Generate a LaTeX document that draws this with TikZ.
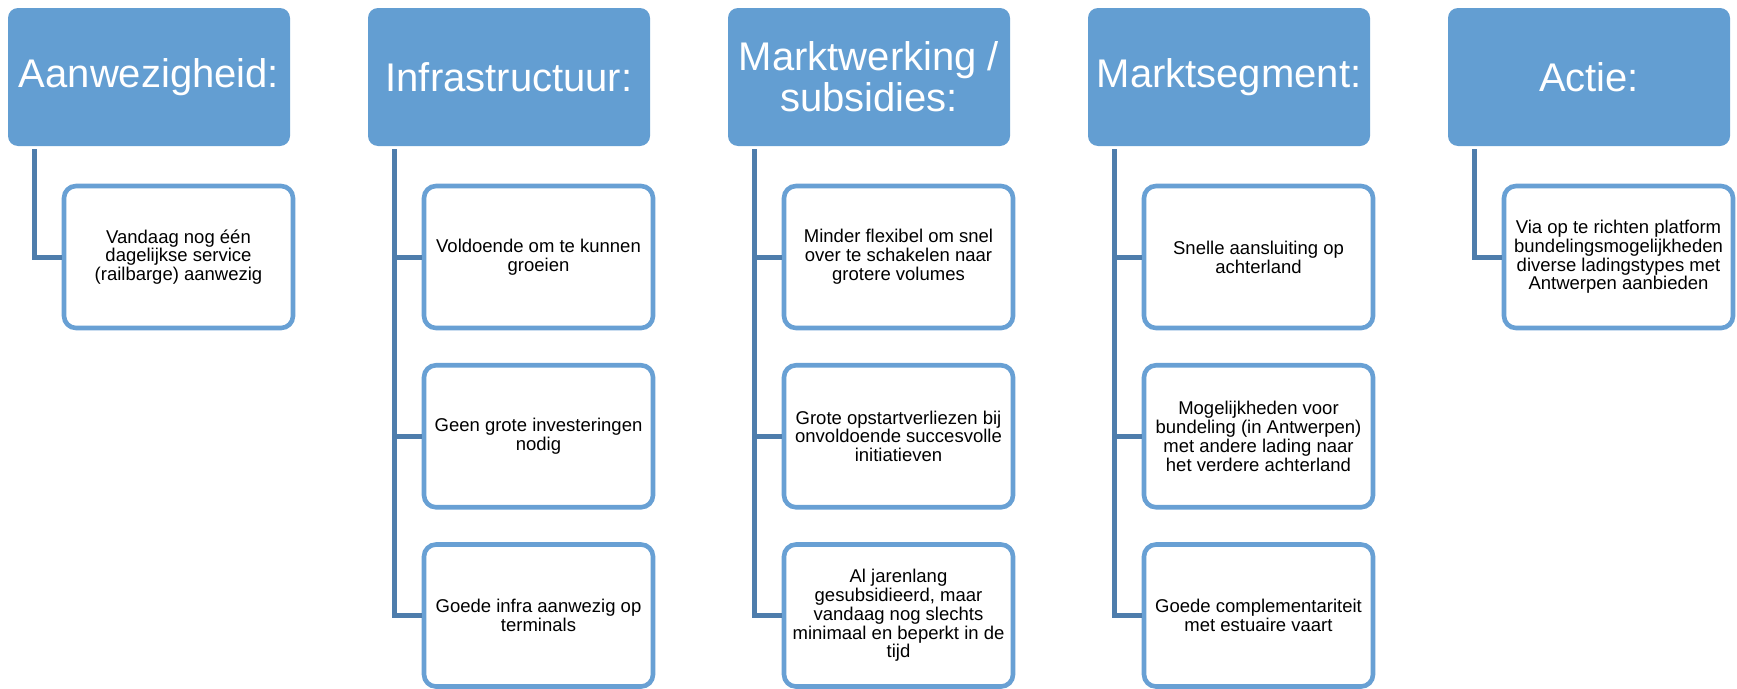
\documentclass[tikz,border=0pt]{standalone}
\usepackage{fontspec}
\setmainfont{Liberation Sans}
\definecolor{hdrfill}{RGB}{99,158,210}
\definecolor{boxline}{RGB}{104,160,212}
\definecolor{connline}{RGB}{78,125,172}
\tikzset{
  hdr/.style={fill=hdrfill, draw=none, rounded corners=10pt, minimum width=282pt, minimum height=138pt,
    inner sep=2pt, align=center, text=white, font=\fontsize{40}{41}\selectfont},
  itembox/.style={draw=boxline, line width=4.6pt, fill=white, rounded corners=12pt, minimum width=229pt,
    minimum height=142pt, inner sep=2pt, align=center, text=black, font=\fontsize{18.5}{18.8}\selectfont},
  conn/.style={draw=connline, line width=5pt}
}
\begin{document}
\begin{tikzpicture}[x=1pt,y=-1pt]
\useasboundingbox (0,0) rectangle (1737,688);
% headers
\node[hdr] (h1) at (149,77) {Aanwezigheid:};
\node[hdr] (h2) at (509,77) {Infrastructuur:};
\node[hdr] (h3) at (869,77) {Marktwerking /\\subsidies:};
\node[hdr] (h4) at (1229,77) {Marktsegment:};
\node[hdr] (h5) at (1589,77) {Actie:};
% children
\node[itembox] (c1a) at (178.5,257) {Vandaag nog één\\dagelijkse service\\(railbarge) aanwezig};
\node[itembox] (c2a) at (538.5,257) {Voldoende om te kunnen\\groeien};
\node[itembox] (c2b) at (538.5,436.25) {Geen grote investeringen\\nodig};
\node[itembox] (c2c) at (538.5,615.5) {Goede infra aanwezig op\\terminals};
\node[itembox] (c3a) at (898.5,257) {Minder flexibel om snel\\over te schakelen naar\\grotere volumes};
\node[itembox] (c3b) at (898.5,436.25) {Grote opstartverliezen bij\\onvoldoende succesvolle\\initiatieven};
\node[itembox] (c3c) at (898.5,615.5) {Al jarenlang\\gesubsidieerd, maar\\vandaag nog slechts\\minimaal en beperkt in de\\tijd};
\node[itembox] (c4a) at (1258.5,257) {Snelle aansluiting op\\achterland};
\node[itembox] (c4b) at (1258.5,436.25) {Mogelijkheden voor\\bundeling (in Antwerpen)\\met andere lading naar\\het verdere achterland};
\node[itembox] (c4c) at (1258.5,615.5) {Goede complementariteit\\met estuaire vaart};
\node[itembox] (c5a) at (1618.5,257) {Via op te richten platform\\bundelingsmogelijkheden\\diverse ladingstypes met\\Antwerpen aanbieden};
% connectors
\draw[conn] ([xshift=27pt,yshift=-3pt]h1.south west) |- (c1a.west);
\draw[conn] ([xshift=27pt,yshift=-3pt]h2.south west) |- (c2c.west);
\draw[conn] ([xshift=27pt]h2.south west |- c2a.west) -- (c2a.west);
\draw[conn] ([xshift=27pt]h2.south west |- c2b.west) -- (c2b.west);
\draw[conn] ([xshift=27pt,yshift=-3pt]h3.south west) |- (c3c.west);
\draw[conn] ([xshift=27pt]h3.south west |- c3a.west) -- (c3a.west);
\draw[conn] ([xshift=27pt]h3.south west |- c3b.west) -- (c3b.west);
\draw[conn] ([xshift=27pt,yshift=-3pt]h4.south west) |- (c4c.west);
\draw[conn] ([xshift=27pt]h4.south west |- c4a.west) -- (c4a.west);
\draw[conn] ([xshift=27pt]h4.south west |- c4b.west) -- (c4b.west);
\draw[conn] ([xshift=27pt,yshift=-3pt]h5.south west) |- (c5a.west);
\end{tikzpicture}
\end{document}
